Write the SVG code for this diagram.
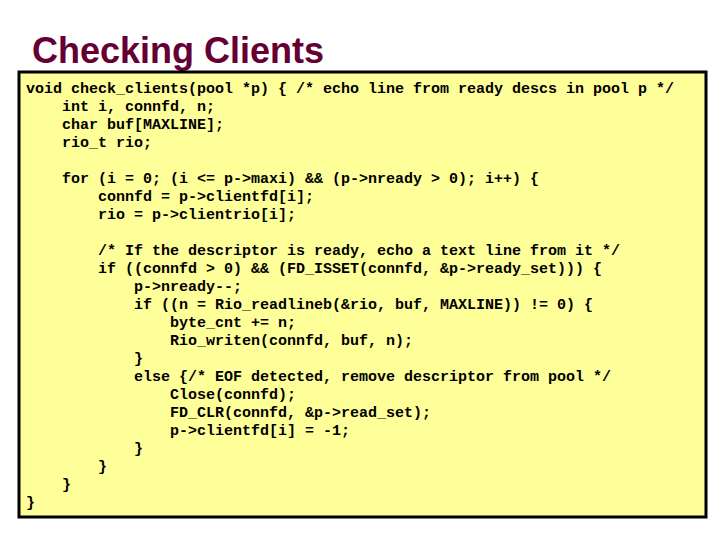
<svg xmlns="http://www.w3.org/2000/svg" width="720" height="540" viewBox="0 0 720 540">
<style>
.c{font-family:"Liberation Mono",monospace;font-size:15px;font-weight:bold;fill:#000;white-space:pre}
</style>
<rect width="720" height="540" fill="#fff"/>
<text x="32" y="63" font-family="Liberation Sans,Arial,sans-serif" font-size="36" font-weight="bold" fill="#660033">Checking Clients</text>
<g id="code">
<rect x="19" y="72" width="687" height="445" fill="#ffff99" stroke="#000" stroke-width="3"/>
<text class="c" x="26" y="93">void check_clients(pool *p) { /* echo line from ready descs in pool p */</text>
<text class="c" x="62" y="111">int i, connfd, n;</text>
<text class="c" x="62" y="129">char buf[MAXLINE];</text>
<text class="c" x="62" y="147">rio_t rio;</text>
<text class="c" x="62" y="183">for (i = 0; (i &lt;= p-&gt;maxi) &amp;&amp; (p-&gt;nready &gt; 0); i++) {</text>
<text class="c" x="98" y="201">connfd = p-&gt;clientfd[i];</text>
<text class="c" x="98" y="219">rio = p-&gt;clientrio[i];</text>
<text class="c" x="98" y="255">/* If the descriptor is ready, echo a text line from it */</text>
<text class="c" x="98" y="273">if ((connfd &gt; 0) &amp;&amp; (FD_ISSET(connfd, &amp;p-&gt;ready_set))) {</text>
<text class="c" x="134" y="291">p-&gt;nready--;</text>
<text class="c" x="134" y="309">if ((n = Rio_readlineb(&amp;rio, buf, MAXLINE)) != 0) {</text>
<text class="c" x="170" y="327">byte_cnt += n;</text>
<text class="c" x="170" y="345">Rio_writen(connfd, buf, n);</text>
<text class="c" x="134" y="363">}</text>
<text class="c" x="134" y="381">else {/* EOF detected, remove descriptor from pool */</text>
<text class="c" x="170" y="399">Close(connfd);</text>
<text class="c" x="170" y="417">FD_CLR(connfd, &amp;p-&gt;read_set);</text>
<text class="c" x="170" y="435">p-&gt;clientfd[i] = -1;</text>
<text class="c" x="134" y="453">}</text>
<text class="c" x="98" y="471">}</text>
<text class="c" x="62" y="489">}</text>
<text class="c" x="26" y="507">}</text>
</g>
</svg>
